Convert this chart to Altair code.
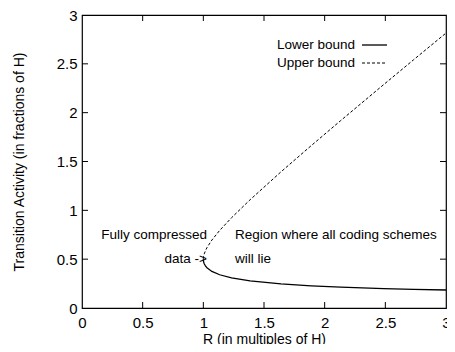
import altair as alt
import pandas as pd

# Curve values
lower_R = [1.0, 1.0003, 1.0012, 1.0046, 1.0073, 1.0189, 1.030, 1.0706, 1.1347, 1.2326, 1.3852, 1.6398, 1.889, 2.1322, 2.4863, 2.733, 3.0]
lower_A = [0.5, 0.4902, 0.4806, 0.4621, 0.4533, 0.4279, 0.412, 0.3747, 0.3404, 0.3082, 0.2770, 0.2460, 0.2267, 0.2132, 0.1989, 0.1913, 0.1845]
upper_R = lower_R
upper_A = [0.5, 0.5102, 0.5206, 0.5425, 0.554, 0.5909, 0.618, 0.6959, 0.7943, 0.9245, 1.1082, 1.3939, 1.6623, 1.919, 2.2874, 2.5417, 2.815]

tick_vals = [0, 0.5, 1, 1.5, 2, 2.5, 3]
legend_names = ["Lower bound", "Upper bound"]
annot_left = ["Fully compressed", "data ->"]
annot_right = ["Region where all coding schemes", "will lie"]

W, H = 364, 293
FONT = "Liberation Sans, Arial, sans-serif"

df = pd.DataFrame({
    "R": lower_R + upper_R,
    "A": lower_A + upper_A,
    "series": ["Lower bound"] * len(lower_R) + ["Upper bound"] * len(upper_R),
    "order": list(range(len(lower_R))) * 2,
})

xs = alt.Scale(domain=[0, 3], nice=False)
ys = alt.Scale(domain=[0, 3], nice=False)

base = alt.Chart(df)

lower = base.transform_filter(alt.datum.series == "Lower bound").mark_line(
    color="black", strokeWidth=1.3
).encode(
    x=alt.X("R:Q", scale=xs, axis=alt.Axis(
        values=tick_vals, format="~g", ticks=False, domain=False, grid=False,
        labelFont=FONT, labelFontSize=15, labelPadding=7, labelColor="black",
        title="R (in multiples of H)", titleFont=FONT, titleFontSize=14,
        titleFontWeight="normal", titlePadding=2, titleColor="black",
        labelFlush=False)),
    y=alt.Y("A:Q", scale=ys, axis=alt.Axis(
        values=tick_vals, format="~g", ticks=False, domain=False, grid=False,
        labelFont=FONT, labelFontSize=15, labelPadding=5, labelColor="black",
        title="Transition Activity (in fractions of H)", titleFont=FONT,
        titleFontSize=14, titleFontWeight="normal", titlePadding=30, titleColor="black",
        labelFlush=False)),
    order="order:Q",
)

upper = base.transform_filter(alt.datum.series == "Upper bound").mark_line(
    color="black", strokeWidth=1, strokeDash=[3, 2]
).encode(
    x=alt.X("R:Q", scale=xs),
    y=alt.Y("A:Q", scale=ys),
    order="order:Q",
)

tdf = pd.DataFrame({"t": tick_vals[1:-1]})
tb = alt.Chart(tdf)
ticks_bottom = tb.mark_rule(color="black", strokeWidth=1).encode(
    x=alt.X("t:Q", scale=xs), y=alt.value(H), y2=alt.value(H - 6))
ticks_top = tb.mark_rule(color="black", strokeWidth=1).encode(
    x=alt.X("t:Q", scale=xs), y=alt.value(0), y2=alt.value(6))
ticks_left = tb.mark_rule(color="black", strokeWidth=1).encode(
    y=alt.Y("t:Q", scale=ys), x=alt.value(0), x2=alt.value(6))
ticks_right = tb.mark_rule(color="black", strokeWidth=1).encode(
    y=alt.Y("t:Q", scale=ys), x=alt.value(W), x2=alt.value(W - 6))

leg_text = alt.Chart(pd.DataFrame({"name": legend_names, "py": [30, 48]})).mark_text(
    align="right", baseline="middle", font=FONT, fontSize=13.5, color="black"
).encode(text="name:N", x=alt.value(273), y=alt.Y("py:Q", scale=None))

leg_solid = alt.Chart(pd.DataFrame({"name": ["Lower bound"]})).mark_rule(
    color="black", strokeWidth=1.3).encode(
    x=alt.value(280), x2=alt.value(305), y=alt.value(30))
leg_dash = alt.Chart(pd.DataFrame({"name": ["Upper bound"]})).mark_rule(
    color="black", strokeWidth=1, strokeDash=[3, 2]).encode(
    x=alt.value(280), x2=alt.value(305), y=alt.value(48))

ann_l = alt.Chart(pd.DataFrame({"txt": annot_left, "py": [220, 244]})).mark_text(
    align="right", baseline="middle", font=FONT, fontSize=13.5, color="black"
).encode(text="txt:N", x=alt.value(125), y=alt.Y("py:Q", scale=None))
ann_r = alt.Chart(pd.DataFrame({"txt": annot_right, "py": [220, 244]})).mark_text(
    align="left", baseline="middle", font=FONT, fontSize=13.5, color="black"
).encode(text="txt:N", x=alt.value(153), y=alt.Y("py:Q", scale=None))

chart = alt.layer(
    lower, upper, ticks_bottom, ticks_top, ticks_left, ticks_right,
    leg_text, leg_solid, leg_dash, ann_l, ann_r
).properties(
    width=W, height=H,
    autosize=alt.AutoSizeParams(type="none"),
    padding={"left": 74, "top": 7, "right": 1, "bottom": 36},
    background="white",
).configure_view(stroke="black", strokeWidth=1.2)

chart.save("out.html", embed_options={"renderer": "svg", "actions": False})
